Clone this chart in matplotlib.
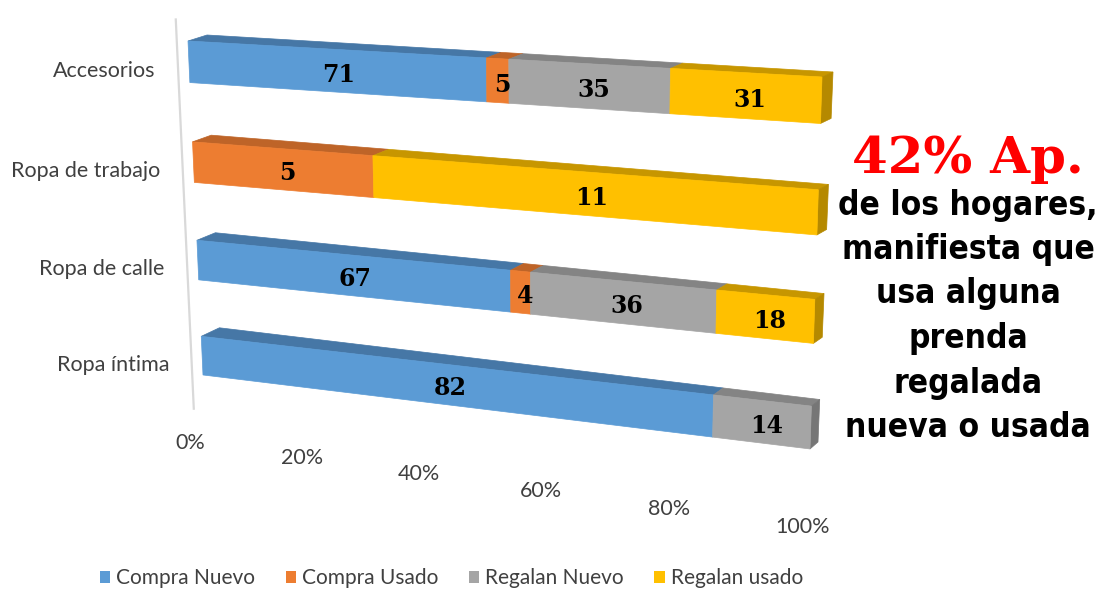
import numpy as np
import matplotlib
matplotlib.use('Agg')
import matplotlib.pyplot as plt
from matplotlib.patches import Polygon, Patch

# ---------------- data ----------------
categories = ['Accesorios', 'Ropa de trabajo', 'Ropa de calle', 'Ropa íntima']
series = ['Compra Nuevo', 'Compra Usado', 'Regalan Nuevo', 'Regalan usado']
compra_nuevo = [71, 0, 67, 82]
compra_usado = [5, 5, 4, 0]
regalan_nuevo = [35, 0, 36, 14]
regalan_usado = [31, 11, 18, 0]
tick_values = [0, 20, 40, 60, 80, 100]
tick_labels = ['0%', '20%', '40%', '60%', '80%', '100%']
headline = '42% Ap.'
note_lines = ['de los hogares,', 'manifiesta que', 'usa alguna', 'prenda',
              'regalada', 'nueva o usada']

# ---------------- style ----------------
front_colors = ['#5B9BD5', '#ED7D31', '#A5A5A5', '#FFC000']
top_colors = ['#4677A6', '#BE6428', '#848484', '#C79600']
side_colors = ['#3F6C97', '#A8581F', '#767676', '#B58900']

W, H = 1101, 591
fig = plt.figure(figsize=(W / 100, H / 100), dpi=100)
ax = fig.add_axes([0, 0, 1, 1])
ax.set_xlim(0, W)
ax.set_ylim(H, 0)
ax.axis('off')


def homography(dst):
    src = [(0, 0), (1, 0), (1, 1), (0, 1)]
    A, b = [], []
    for (x, y), (X, Y) in zip(src, dst):
        A.append([x, y, 1, 0, 0, 0, -x * X, -y * X]); b.append(X)
        A.append([0, 0, 0, x, y, 1, -x * Y, -y * Y]); b.append(Y)
    h = np.linalg.solve(np.array(A, float), np.array(b, float))
    return np.append(h, 1.0).reshape(3, 3)


# camera: front plane and back plane of the 3D bars (pixel space)
Hf = homography([(188, 41), (822, 77), (810, 449), (203, 375)])
Hb = homography([(207, 35), (833, 72), (818, 442), (221, 366)])


def proj(Hm, u, v):
    p = Hm @ np.array([u, v, 1.0])
    return np.array([p[0] / p[2], p[1] / p[2]])


pitch = 0.2933
thick = 0.12

data = np.array([compra_nuevo, compra_usado, regalan_nuevo, regalan_usado], float).T

for k, cat in enumerate(categories):
    vals = data[k]
    total = vals.sum()
    vt = k * pitch
    vb = vt + thick
    vm = (vt + vb) / 2
    cum = 0.0
    last = max(i for i, v in enumerate(vals) if v > 0)
    for i, val in enumerate(vals):
        if val <= 0:
            continue
        u0 = cum / total
        u1 = (cum + val) / total
        cum += val
        front = [proj(Hf, u0, vt), proj(Hf, u1, vt), proj(Hf, u1, vb), proj(Hf, u0, vb)]
        top = [proj(Hf, u0, vt), proj(Hf, u1, vt), proj(Hb, u1, vt), proj(Hb, u0, vt)]
        ax.add_patch(Polygon(top, closed=True, facecolor=top_colors[i], edgecolor=top_colors[i], lw=0.5, zorder=2))
        ax.add_patch(Polygon(front, closed=True, facecolor=front_colors[i], edgecolor=front_colors[i], lw=0.5, zorder=3))
        if i == last:
            side = [proj(Hf, 1, vt), proj(Hf, 1, vb), proj(Hb, 1, vb), proj(Hb, 1, vt)]
            ax.add_patch(Polygon(side, closed=True, facecolor=side_colors[i], edgecolor=side_colors[i], lw=0.5, zorder=2))
        um = (u0 + u1) / 2
        c = proj(Hf, um, vm)
        ax.text(c[0] + 5, c[1] + 4, f'{int(val)}', ha='center', va='center', fontsize=17,
                fontweight='heavy', family='DejaVu Serif', color='black', zorder=5)
    # category label
    p = proj(Hf, 0, vm)
    ax.text(p[0] - 33, p[1] + 9, cat, ha='right', va='center', fontsize=15.5,
            family='Lato', color='#404040')

# vertical axis line
a0 = proj(Hf, -0.02, -0.06)
a1 = proj(Hf, -0.02, 1.11)
ax.plot([a0[0], a1[0]], [a0[1], a1[1]], color='#D9D9D9', lw=1.6, zorder=1)

# tick labels along the floor edge
x0 = proj(Hf, 0, 1)[0]
x1 = proj(Hf, 1, 1)[0]
A = np.array([190, 443.0])
B = np.array([803, 527.0])
for tv, tl in zip(tick_values, tick_labels):
    frac = (proj(Hf, tv / 100, 1)[0] - x0) / (x1 - x0)
    pos = A + frac * (B - A)
    ax.text(pos[0], pos[1], tl, ha='center', va='center', fontsize=15.5,
            family='Lato', color='#404040')

# legend
handles = [Patch(facecolor=c, edgecolor='none') for c in front_colors]
ax.legend(handles, series, loc='center', bbox_to_anchor=(0.41, 0.022), ncol=4,
          frameon=False, handlelength=0.5, handleheight=0.5, handletextpad=0.3,
          columnspacing=1.45, prop={'family': 'Lato', 'size': 15}, labelcolor='#404040')

# annotation on the right
ax.text(968, 160, headline, ha='center', va='center', fontsize=37,
        fontweight='bold', family='DejaVu Serif', color='#FF0000', zorder=6)
for j, line in enumerate(note_lines):
    ax.text(968, 205 + j * 44.5, line, ha='center', va='center', fontsize=24,
            fontweight='bold', family='DejaVu Sans', fontstretch='condensed',
            color='black', zorder=6)

fig.savefig('out.png', dpi=100)
